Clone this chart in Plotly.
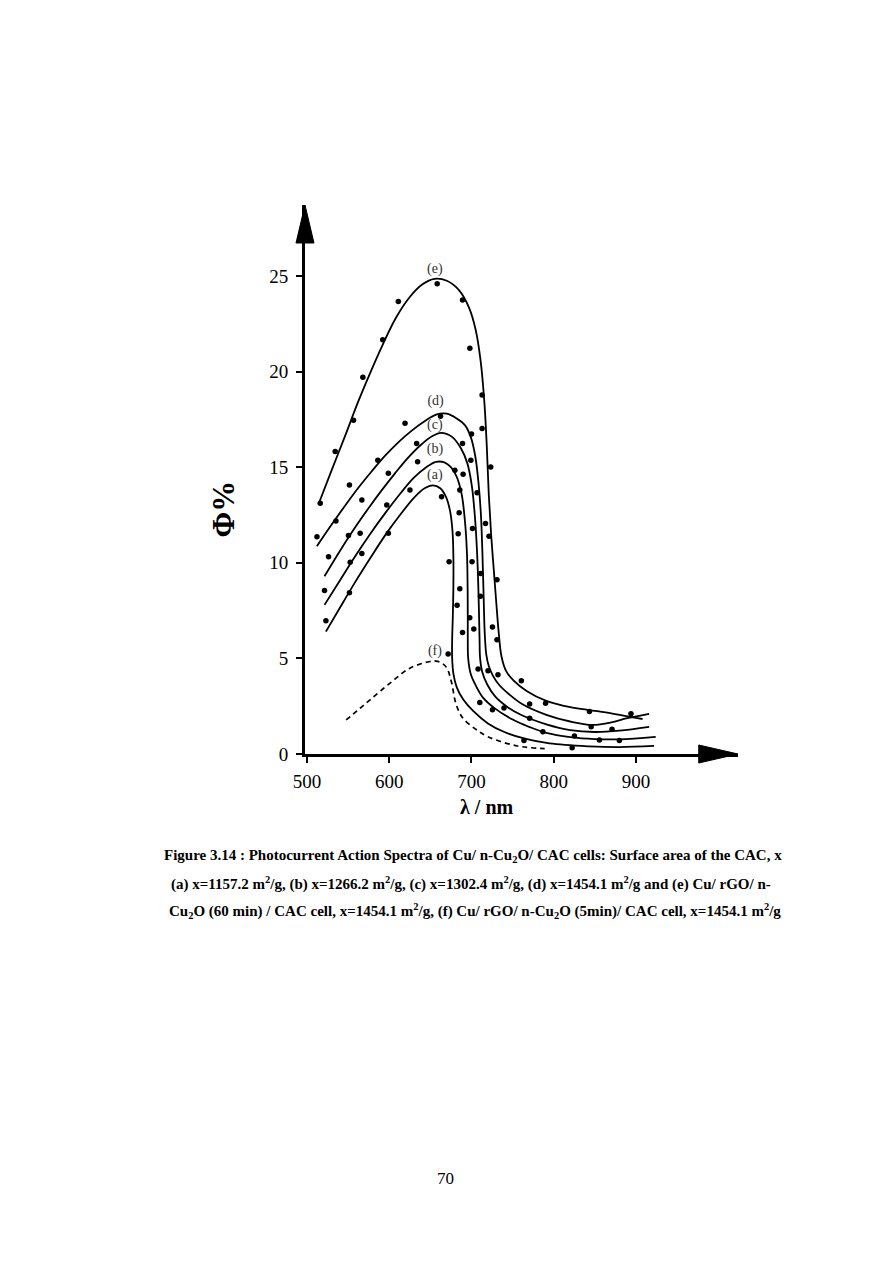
import plotly.graph_objects as go

# ---------------- data (λ in nm, Φ in %) ----------------
# fitted curves (the curves fold back in λ)
curve_a_x = [523, 540, 558, 577, 596, 614, 630, 643, 653, 662, 669, 674, 677, 678, 678, 677.3, 676.5, 676.5, 678, 682, 690, 702, 720, 740, 765, 795, 843, 880, 922]
curve_a_y = [6.4, 7.65, 8.95, 10.25, 11.5, 12.55, 13.4, 13.9, 14.05, 13.9, 13.45, 12.7, 11.6, 10.3, 8.8, 7.2, 6.0, 5.0, 4.2, 3.5, 2.85, 2.25, 1.6, 1.15, 0.8, 0.55, 0.4, 0.36, 0.42]

curve_b_x = [521.3, 540, 558, 577, 596, 614, 630, 645, 657, 667, 675, 682, 688, 692, 694.5, 695.3, 695.5, 695.5, 696, 699, 705, 714, 728, 750, 770, 791, 820, 850, 880, 924]
curve_b_y = [7.8, 9.07, 10.3, 11.52, 12.65, 13.65, 14.45, 15.0, 15.28, 15.25, 15.0, 14.5, 13.6, 12.2, 10.5, 8.7, 7.0, 6.0, 5.0, 4.2, 3.6, 2.95, 2.4, 1.8, 1.42, 1.1, 0.88, 0.78, 0.77, 0.9]

curve_c_x = [521.3, 540, 558, 575, 591, 607, 623, 638, 652, 663, 676, 687, 695, 700.5, 704, 706.5, 708, 709, 709.8, 710.5, 713, 719, 729, 744, 760, 791, 820, 850, 880, 916]
curve_c_y = [9.3, 10.62, 11.82, 12.87, 13.8, 14.68, 15.5, 16.15, 16.62, 16.8, 16.6, 16.0, 15.2, 14.0, 12.5, 10.8, 9.2, 7.6, 6.0, 5.0, 4.3, 3.65, 3.0, 2.45, 2.05, 1.55, 1.25, 1.15, 1.22, 1.42]

curve_d_x = [512, 530, 546, 562, 579, 595, 611, 627, 643, 657, 670, 682, 692, 699, 704.5, 708.5, 711.5, 713.3, 714.5, 715.5, 716.5, 718, 721, 726, 733, 745, 762, 791, 820, 847, 870, 888, 916]
curve_d_y = [10.87, 12.0, 12.97, 13.9, 14.8, 15.6, 16.3, 16.9, 17.4, 17.75, 17.8, 17.55, 17.2, 16.6, 15.6, 14.2, 12.5, 10.5, 8.7, 7.0, 6.0, 5.2, 4.6, 4.1, 3.65, 3.15, 2.6, 2.05, 1.7, 1.52, 1.65, 1.86, 2.1]

curve_e_x = [514, 530, 546, 562, 577, 592, 608, 625, 640, 655, 670, 685, 697, 705, 711, 715.5, 718.5, 721, 724, 727, 730, 733, 736.5, 742, 751, 767, 791, 820, 843, 870, 888, 908]
curve_e_y = [13.06, 14.85, 16.6, 18.4, 19.95, 21.4, 22.8, 23.9, 24.55, 24.85, 24.75, 24.25, 23.35, 22.2, 20.6, 18.5, 16.2, 13.6, 11.4, 9.7, 8.0, 6.4, 5.1, 4.35, 3.85, 3.3, 2.78, 2.45, 2.3, 2.13, 1.98, 1.83]

curve_f_x = [547.6, 562, 576.7, 601, 625.2, 649.5, 657, 664, 670, 676, 680, 685, 690, 705, 720, 756, 789]
curve_f_y = [1.78, 2.3, 2.83, 3.71, 4.49, 4.84, 4.86, 4.75, 4.5, 3.7, 2.8, 2.2, 1.85, 1.3, 0.9, 0.42, 0.28]

# measured points
pts_a_x = [523, 551.6, 566.7, 598.9, 625.2, 663.6, 672.8, 671.6, 763.8, 822.4]
pts_a_y = [6.97, 8.43, 10.49, 11.54, 13.81, 13.46, 10.05, 5.23, 0.70, 0.33]

pts_b_x = [521.3, 552.5, 564.6, 597, 634.5, 679.8, 689.8, 685.8, 685, 683.8, 685.8, 682.5, 689.1, 697.9, 710.1, 725.5, 786.8, 825.2, 855.5, 879.8]
pts_b_y = [8.55, 10.03, 11.54, 13.02, 15.28, 14.84, 14.63, 13.81, 12.62, 11.52, 8.64, 7.78, 6.36, 7.12, 2.69, 2.31, 1.17, 0.94, 0.73, 0.70]

pts_c_x = [526.2, 550.4, 566.7, 598.9, 633.3, 689.1, 699.2, 701.2, 700.7, 702.8, 708, 739.5, 770.7, 870.9]
pts_c_y = [10.31, 11.43, 13.28, 14.68, 16.24, 16.24, 15.36, 11.8, 10.05, 6.54, 4.44, 2.40, 1.87, 1.30]

pts_d_x = [512.1, 535.2, 551.6, 586.1, 619.2, 662.4, 700, 706.8, 717, 721.3, 711.3, 710.9, 725.5, 720.1, 732.2, 770.7, 845.5]
pts_d_y = [11.36, 12.18, 14.07, 15.36, 17.3, 17.66, 16.73, 13.67, 12.06, 11.39, 9.44, 8.25, 6.64, 4.35, 4.14, 2.61, 1.43]

pts_e_x = [516.1, 534.3, 556.5, 567.9, 592.1, 611, 658.3, 689.1, 698, 712.9, 712.9, 723.4, 731, 731, 760.6, 790.1, 843.4, 893.9]
pts_e_y = [13.11, 15.82, 17.46, 19.7, 21.67, 23.67, 24.59, 23.74, 21.22, 18.77, 17.03, 15.01, 9.12, 5.98, 3.83, 2.66, 2.22, 2.10]

# curve labels
label_text = ["(a)", "(b)", "(c)", "(d)", "(e)", "(f)"]
label_x = [655.5, 655.5, 655.5, 656.4, 655.5, 655.5]
label_y = [14.58, 15.94, 17.2, 18.44, 25.33, 5.37]

x_ticks = [500, 600, 700, 800, 900]
y_ticks = [0, 5, 10, 15, 20, 25]

caption = [
    "Figure 3.14 : Photocurrent Action Spectra of Cu/ n-Cu<sub>2</sub>O/ CAC cells: Surface area of the CAC, x",
    "(a) x=1157.2 m<sup>2</sup>/g, (b) x=1266.2 m<sup>2</sup>/g, (c) x=1302.4 m<sup>2</sup>/g, (d) x=1454.1 m<sup>2</sup>/g and (e) Cu/ rGO/ n-",
    "Cu<sub>2</sub>O (60 min) / CAC cell, x=1454.1 m<sup>2</sup>/g, (f) Cu/ rGO/ n-Cu<sub>2</sub>O (5min)/ CAC cell, x=1454.1 m<sup>2</sup>/g",
]
page_number = "70"

# ---------------- layout geometry (page pixels) ----------------
W, H = 893, 1262
OFF = 8  # html body margin
PL, PR, PT, PB = 305, 738.3, 205, 754
PW, PH = PR - PL, PB - PT
def paper_x(px):
    return (px - PL) / PW
def paper_y(py):
    return (PB - py) / PH

SERIF = "Liberation Serif, Times New Roman, serif"

fig = go.Figure()
for cx, cy in [(curve_a_x, curve_a_y), (curve_b_x, curve_b_y), (curve_c_x, curve_c_y),
               (curve_d_x, curve_d_y), (curve_e_x, curve_e_y)]:
    fig.add_trace(go.Scatter(x=cx, y=cy, mode="lines",
                             line=dict(color="black", width=1.8, shape="spline", smoothing=1.0),
                             hoverinfo="skip", showlegend=False))
fig.add_trace(go.Scatter(x=curve_f_x, y=curve_f_y, mode="lines",
                         line=dict(color="black", width=1.7, dash="5px,4px", shape="spline", smoothing=1.0),
                         hoverinfo="skip", showlegend=False))
for px_, py_ in [(pts_a_x, pts_a_y), (pts_b_x, pts_b_y), (pts_c_x, pts_c_y),
                 (pts_d_x, pts_d_y), (pts_e_x, pts_e_y)]:
    fig.add_trace(go.Scatter(x=px_, y=py_, mode="markers",
                             marker=dict(color="black", size=5.5),
                             hoverinfo="skip", showlegend=False))
fig.add_trace(go.Scatter(x=label_x, y=label_y, mode="text", text=label_text,
                         textfont=dict(family=SERIF, size=14, color="#333"),
                         textposition="middle center", hoverinfo="skip", showlegend=False))

x0 = 500 - (307 - PL) / 0.823
x1 = x0 + PW / 0.823
y1 = PH / 19.12

fig.update_xaxes(range=[x0, x1], showline=True, linewidth=3, linecolor="black",
                 ticks="outside", ticklen=6, tickwidth=2, tickcolor="black",
                 tickvals=x_ticks, ticktext=[str(v) for v in x_ticks],
                 tickfont=dict(family=SERIF, size=19, color="black"),
                 ticklabelstandoff=2,
                 showgrid=False, zeroline=False)
fig.update_yaxes(range=[0, y1], showline=True, linewidth=3, linecolor="black",
                 ticks="outside", ticklen=6, tickwidth=2, tickcolor="black",
                 tickvals=y_ticks, ticktext=[str(v) for v in y_ticks],
                 tickfont=dict(family=SERIF, size=19, color="black"),
                 ticklabelstandoff=4,
                 showgrid=False, zeroline=False)

# arrow heads
fig.add_shape(type="path", xref="paper", yref="paper",
              path=f"M {paper_x(PL-9)},{paper_y(243)} L {paper_x(PL+9)},{paper_y(243)} L {paper_x(PL)},{paper_y(PT)} Z",
              fillcolor="black", line=dict(color="black", width=1))
fig.add_shape(type="path", xref="paper", yref="paper",
              path=f"M {paper_x(699)},{paper_y(PB-9)} L {paper_x(699)},{paper_y(PB+9)} L {paper_x(PR)},{paper_y(PB)} Z",
              fillcolor="black", line=dict(color="black", width=1))

ann = []
ann.append(dict(x=paper_x(487), y=paper_y(807), xref="paper", yref="paper", text="<b>λ / nm</b>",
                showarrow=False, font=dict(family=SERIF, size=20, color="black"),
                xanchor="center", yanchor="middle"))
ann.append(dict(x=paper_x(223), y=paper_y(509.5), xref="paper", yref="paper", text="<b>Φ%</b>",
                showarrow=False, textangle=-90, font=dict(family=SERIF, size=31, color="black"),
                xanchor="center", yanchor="middle"))
for txt, cxp, cyp in zip(caption, [473.5, 471, 475], [856, 883, 911]):
    ann.append(dict(x=paper_x(cxp), y=paper_y(cyp), xref="paper", yref="paper", text=f"<b>{txt}</b>",
                    showarrow=False, font=dict(family=SERIF, size=15, color="black"),
                    xanchor="center", yanchor="middle"))
ann.append(dict(x=paper_x(446), y=paper_y(1178), xref="paper", yref="paper", text=page_number,
                showarrow=False, font=dict(family=SERIF, size=17, color="black"),
                xanchor="center", yanchor="middle"))

fig.update_layout(width=W, height=H,
                  margin=dict(l=PL - OFF, r=W - (PR - OFF), t=PT - OFF, b=H - (PB - OFF), pad=0),
                  paper_bgcolor="white", plot_bgcolor="white", annotations=ann,
                  showlegend=False)

fig.write_html("out.html")
